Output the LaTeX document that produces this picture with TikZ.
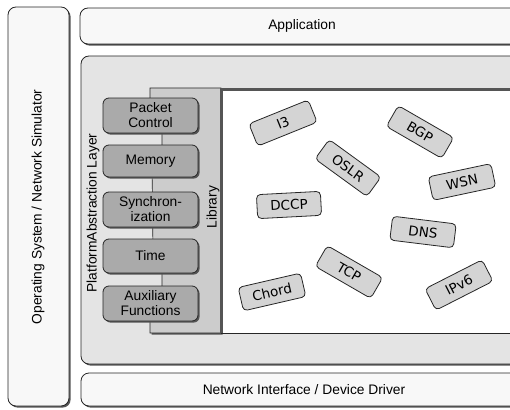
\documentclass[tikz,border=0pt]{standalone}
\usepackage{fontspec}
\setmainfont{Liberation Sans}
\newfontfamily\protofont{DejaVu Sans}
\usetikzlibrary{shadows}
\definecolor{paper}{HTML}{F8F8F8}
\definecolor{midgray}{HTML}{E4E4E4}
\definecolor{libgray}{HTML}{CCCCCC}
\definecolor{laygray}{HTML}{AAAAAA}
\definecolor{protogray}{HTML}{D4D4D4}
\definecolor{shadowgray}{HTML}{555555}
\begin{document}
\begin{tikzpicture}[x=1pt,y=-1pt,
  shad/.style={drop shadow={shadow xshift=1.6pt,shadow yshift=-1.6pt,fill=shadowgray,opacity=1}},
  bigbox/.style={draw=black!85,line width=0.8pt,rounded corners=8pt,shad,inner sep=0pt},
  layerbox/.style={draw=black!85,line width=0.8pt,fill=laygray,rounded corners=6pt,shad,minimum width=95pt,align=center,font=\fontsize{13.8}{15}\selectfont,inner sep=0pt},
  protobox/.style={draw=black!85,line width=0.8pt,fill=protogray,rounded corners=4pt,minimum width=64pt,minimum height=24pt,inner sep=0pt,font=\protofont\fontsize{13.5}{15}\selectfont},
  lbl/.style={font=\fontsize{13.8}{15}\selectfont,inner sep=0pt}]
\useasboundingbox (0,0) rectangle (510,409);
% outer boxes
\node[bigbox,fill=paper,minimum width=61pt,minimum height=399pt] (osbox) at (38.5,206.5) {};
\node[bigbox,fill=paper,minimum width=445pt,minimum height=36pt] (appbox) at (302.5,26) {};
\node[bigbox,fill=midgray,minimum width=444pt,minimum height=308pt] (midbox) at (303,210) {};
\node[bigbox,fill=paper,minimum width=444pt,minimum height=33pt] (nidbox) at (303,389.5) {};
% library panel
\path[draw=black!85,line width=0.6pt,fill=libgray,shad]
  (150,88) -- (221,88) -- (221,333) -- (150,333) -- (150,303) -- (162,303)
  -- (162,256) -- (153,256) -- (152,161) -- (162,161) -- (162,116) -- (150,116) -- cycle;
% white area
\path[fill=white,draw=black!85,line width=0.7pt] (221,88) rectangle (525,333);
\draw[shadowgray,line width=2.4pt] (221.5,333) -- (221.5,89.5) -- (525,89.5);
% layer boxes
\node[layerbox,minimum height=35pt] (pc) at (150.5,115.5) {Packet\\Control};
\node[layerbox,minimum height=32pt] (mem) at (150.5,161) {Memory};
\node[layerbox,minimum height=35pt] (sync) at (150.5,209.5) {Synchron-\\ization};
\node[layerbox,minimum height=34pt] (time) at (150.5,256) {Time};
\node[layerbox,minimum height=35pt] (aux) at (150.5,303.5) {Auxiliary\\Functions};
% protocol boxes
\node[protobox,rotate=22] (i3) at (283,123) {I3};
\node[protobox,rotate=-30] (bgp) at (420,132) {BGP};
\node[protobox,rotate=-36] (oslr) at (348,168) {OSLR};
\node[protobox,rotate=12] (wsn) at (462,182) {WSN};
\node[protobox,rotate=3] (dccp) at (289,205) {DCCP};
\node[protobox,rotate=-7] (dns) at (423,232) {DNS};
\node[protobox,rotate=-30] (tcp) at (349,272) {TCP};
\node[protobox,rotate=13] (chord) at (272,292) {Chord};
\node[protobox,rotate=27] (ipv6) at (459,285) {IPv6};
% labels
\node[lbl] (app) at (302,26) {Application};
\node[lbl] (nid) at (304,389.5) {Network Interface / Device Driver};
\node[lbl,rotate=90] (ostxt) at (38,207) {Operating System / Network Simulator};
\node[lbl,rotate=90] (pal) at (93,213) {PlatformAbstraction Layer};
\node[lbl,rotate=90] (libtxt) at (213,207) {Library};
\end{tikzpicture}
\end{document}
